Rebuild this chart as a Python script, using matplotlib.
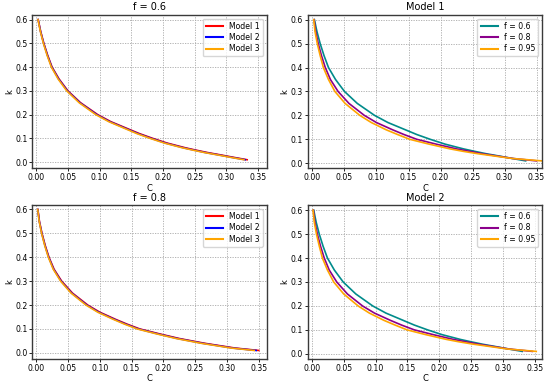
import numpy as np
import matplotlib
matplotlib.use("Agg")
import matplotlib.pyplot as plt

# k values (shared by every curve)
k = [0.6, 0.55, 0.5, 0.45, 0.4, 0.35, 0.3, 0.25, 0.2, 0.17, 0.14, 0.12,
     0.1, 0.08, 0.06, 0.05, 0.04, 0.03, 0.02, 0.01]

# C values, f = 0.6
c_f06_m1 = [0.003, 0.007, 0.012, 0.018, 0.025, 0.036, 0.050, 0.070, 0.097, 0.118,
            0.145, 0.163, 0.184, 0.207, 0.236, 0.253, 0.271, 0.292, 0.312, 0.333]
c_f06_m2 = [0.003, 0.0068, 0.0117, 0.0176, 0.0245, 0.0353, 0.0492, 0.0690, 0.0955, 0.1163,
            0.1430, 0.1608, 0.1815, 0.2043, 0.2330, 0.2500, 0.2678, 0.2887, 0.3088, 0.3300]
c_f06_m3 = [0.0028, 0.0065, 0.0113, 0.0171, 0.0239, 0.0345, 0.0482, 0.0678, 0.0940, 0.1148,
            0.1412, 0.1590, 0.1797, 0.2025, 0.2312, 0.2482, 0.2660, 0.2870, 0.3070, 0.3280]

# f = 0.8
c_f08_m1 = [0.0025, 0.005, 0.009, 0.014, 0.020, 0.028, 0.040, 0.057, 0.081, 0.100,
            0.125, 0.143, 0.163, 0.193, 0.225, 0.245, 0.265, 0.289, 0.313, 0.350]
c_f08_m2 = [0.0024, 0.0048, 0.0087, 0.0136, 0.0195, 0.0273, 0.0391, 0.0558, 0.0795, 0.0983,
            0.1230, 0.1408, 0.1607, 0.1904, 0.2221, 0.2419, 0.2618, 0.2856, 0.3094, 0.3460]
c_f08_m3 = [0.0023, 0.0046, 0.0084, 0.0132, 0.0190, 0.0267, 0.0383, 0.0548, 0.0782, 0.0968,
            0.1213, 0.1390, 0.1588, 0.1883, 0.2199, 0.2396, 0.2594, 0.2831, 0.3068, 0.3430]

# f = 0.95
c_f095_m1 = [0.002, 0.004, 0.0075, 0.012, 0.017, 0.025, 0.035, 0.051, 0.074, 0.092,
             0.115, 0.133, 0.152, 0.182, 0.215, 0.235, 0.258, 0.285, 0.312, 0.358]
c_f095_m2 = [0.0019, 0.0039, 0.0073, 0.0117, 0.0166, 0.0245, 0.0343, 0.0500, 0.0726, 0.0903,
             0.1129, 0.1306, 0.1493, 0.1788, 0.2113, 0.2310, 0.2537, 0.2803, 0.3070, 0.3520]

models = ["Model 1", "Model 2", "Model 3"]
f_labels = ["f = 0.6", "f = 0.8", "f = 0.95"]

model_colors = ["red", "blue", "orange"]
f_colors = ["#008b8b", "#8b008b", "orange"]

fig, axs = plt.subplots(2, 2, figsize=(5.5, 3.85), dpi=100)
plt.subplots_adjust(left=0.059, right=0.986, top=0.962, bottom=0.068, wspace=0.176, hspace=0.24)

panels = [
    (axs[0, 0], "f = 0.6", [c_f06_m1, c_f06_m2, c_f06_m3], models, model_colors, (-0.006, 0.364), (-0.026, 0.621)),
    (axs[0, 1], "Model 1", [c_f06_m1, c_f08_m1, c_f095_m1], f_labels, f_colors, (-0.007, 0.359), (-0.021, 0.621)),
    (axs[1, 0], "f = 0.8", [c_f08_m1, c_f08_m2, c_f08_m3], models, model_colors, (-0.006, 0.3626), (-0.025, 0.618)),
    (axs[1, 1], "Model 2", [c_f06_m2, c_f08_m2, c_f095_m2], f_labels, f_colors, (-0.006, 0.3615), (-0.021, 0.621)),
]

for ax, title, curves, labels, colors, xl, yl in panels:
    for c, lab, col in zip(curves, labels, colors):
        ax.plot(c, k, color=col, lw=1.2, label=lab)
    ax.set_title(title, fontsize=7, pad=3)
    ax.set_xlabel("C", fontsize=6, labelpad=1)
    ax.set_ylabel("k", fontsize=6, labelpad=1)
    ax.set_xlim(*xl)
    ax.set_ylim(*yl)
    ax.set_xticks(np.arange(0, 0.351, 0.05))
    ax.set_yticks(np.arange(0, 0.61, 0.1))
    ax.tick_params(labelsize=5.6, length=2, width=0.6, pad=1.5)
    ax.grid(True, linestyle=(0, (1.5, 1.5)), color="#a8a8a8", linewidth=0.6)
    for s in ax.spines.values():
        s.set_color("#3a3a3a")
        s.set_linewidth(1.0)
    leg = ax.legend(loc="upper right", fontsize=5.6, handlelength=2.2, borderpad=0.4, labelspacing=0.3)
    for line in leg.get_lines():
        line.set_linewidth(1.5)

fig.savefig("out.png", dpi=100)
